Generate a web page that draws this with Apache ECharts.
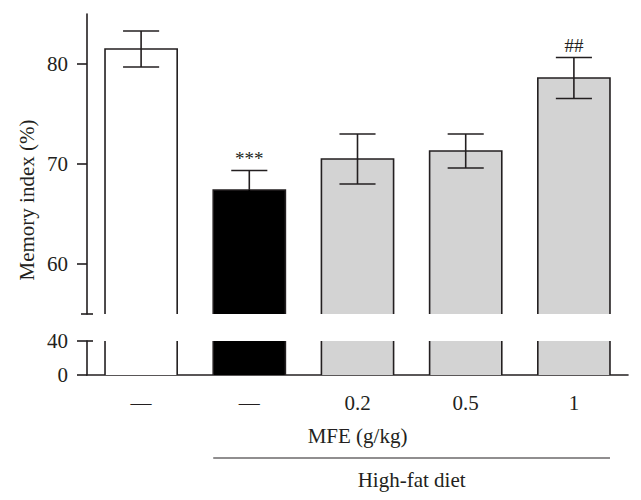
<!DOCTYPE html>
<html><head><meta charset="utf-8">
<script src="https://cdn.jsdelivr.net/npm/echarts@6/dist/echarts.min.js"></script>
<style>html,body{margin:0;padding:0;background:#fff}#c{width:641px;height:500px}</style>
</head><body><div id="c"></div>
<script>
// ---- data ----
const categories = ['\u2014', '\u2014', '0.2', '0.5', '1'];
const means = [81.5, 67.4, 70.5, 71.3, 78.6];
const errors = [1.8, 1.95, 2.5, 1.7, 2.05];
const marks = ['', '***', '', '', '##'];
const upperTicks = [60, 70, 80];
const lowerTicks = [0, 40];
const upperRange = [55, 85];
const lowerRange = [0, 40];
const groupLabel = 'High-fat diet';
const xName = 'MFE (g/kg)';
const yName = 'Memory index (%)';

// ---- styles ----
const INK = '#231f20';
const FAMILY = "'Liberation Serif', 'Times New Roman', serif";
const barFill = i => (i === 0 ? '#ffffff' : i === 1 ? '#000000' : '#d3d3d3');
const LW = 1.6;

const chart = echarts.init(document.getElementById('c'), null, { renderer: 'svg' });

const rows = means.map((m, i) => [i, m, errors[i]]);

function upperItem(params, api) {
  const i = api.value(0), v = api.value(1), e = api.value(2);
  const base = api.coord([i, upperRange[0]]);
  const top = api.coord([i, v]);
  const bw = api.size([1, 0])[0] * 0.667;
  const x0 = top[0] - bw / 2, x1 = top[0] + bw / 2;
  const eTop = api.coord([i, v + e])[1], eBot = api.coord([i, v - e])[1];
  const cap = bw / 4;
  const inner = barFill(i) === '#000000' ? '#000000' : INK;
  const children = [
    { type: 'rect', shape: { x: x0, y: top[1], width: bw, height: base[1] - top[1] }, style: { fill: barFill(i) } },
    { type: 'polyline', shape: { points: [[x0, base[1]], [x0, top[1]], [x1, top[1]], [x1, base[1]]] }, style: { stroke: INK, lineWidth: LW, fill: null } },
    { type: 'line', shape: { x1: top[0], y1: eTop, x2: top[0], y2: top[1] }, style: { stroke: INK, lineWidth: LW } },
    { type: 'line', shape: { x1: top[0], y1: top[1], x2: top[0], y2: eBot }, style: { stroke: inner, lineWidth: LW } },
    { type: 'line', shape: { x1: top[0] - cap, y1: eTop, x2: top[0] + cap, y2: eTop }, style: { stroke: INK, lineWidth: LW } },
    { type: 'line', shape: { x1: top[0] - cap, y1: eBot, x2: top[0] + cap, y2: eBot }, style: { stroke: inner, lineWidth: LW } }
  ];
  if (marks[i]) {
    children.push({ type: 'text', x: top[0], y: eTop - 3, style: { text: marks[i], fontSize: 19, fontFamily: FAMILY, fill: INK, align: 'center', verticalAlign: 'bottom' } });
  }
  if (params.dataIndex === 0) {
    const ax = params.coordSys.x;
    children.push({ type: 'line', shape: { x1: ax - 6, y1: base[1], x2: ax + 6, y2: base[1] }, style: { stroke: INK, lineWidth: LW } });
  }
  return { type: 'group', children };
}

function lowerItem(params, api) {
  const i = api.value(0);
  const base = api.coord([i, lowerRange[0]]);
  const top = api.coord([i, lowerRange[1]]);
  const bw = api.size([1, 0])[0] * 0.667;
  const x0 = base[0] - bw / 2, x1 = base[0] + bw / 2;
  const children = [
    { type: 'rect', shape: { x: x0, y: top[1], width: bw, height: base[1] - top[1] }, style: { fill: barFill(i) } },
    { type: 'line', shape: { x1: x0, y1: top[1], x2: x0, y2: base[1] }, style: { stroke: INK, lineWidth: LW } },
    { type: 'line', shape: { x1: x1, y1: top[1], x2: x1, y2: base[1] }, style: { stroke: INK, lineWidth: LW } }
  ];
  if (params.dataIndex === 0) {
    const ax = params.coordSys.x;
    children.push({ type: 'line', shape: { x1: ax, y1: top[1], x2: ax + 6, y2: top[1] }, style: { stroke: INK, lineWidth: LW } });
  }
  return { type: 'group', children };
}

const axisFont = { fontFamily: FAMILY, fontSize: 21, color: INK };

chart.setOption({
  animation: false,
  textStyle: { fontFamily: FAMILY },
  grid: [
    { left: 87, width: 541, top: 14, height: 300 },
    { left: 87, width: 541, top: 341, height: 34 }
  ],
  xAxis: [
    { type: 'category', gridIndex: 0, data: categories, show: false },
    {
      type: 'category', gridIndex: 1, data: categories,
      axisLine: { lineStyle: { color: INK, width: LW } },
      axisTick: { alignWithLabel: true, length: 9, lineStyle: { color: INK, width: LW } },
      axisLabel: Object.assign({ margin: 17 }, axisFont),
      name: xName, nameLocation: 'middle', nameGap: 50,
      nameTextStyle: { fontFamily: FAMILY, fontSize: 21, color: INK }
    }
  ],
  yAxis: [
    {
      type: 'value', gridIndex: 0, min: upperRange[0], max: upperRange[1],
      splitLine: { show: false },
      axisLine: { show: true, lineStyle: { color: INK, width: LW } },
      axisTick: { show: true, length: 10, customValues: upperTicks, lineStyle: { color: INK, width: LW } },
      axisLabel: Object.assign({ margin: 19, customValues: upperTicks }, axisFont)
    },
    {
      type: 'value', gridIndex: 1, min: lowerRange[0], max: lowerRange[1],
      splitLine: { show: false },
      axisLine: { show: true, lineStyle: { color: INK, width: LW } },
      axisTick: { show: true, length: 10, customValues: lowerTicks, lineStyle: { color: INK, width: LW } },
      axisLabel: Object.assign({ margin: 19, customValues: lowerTicks }, axisFont)
    }
  ],
  series: [
    { type: 'custom', xAxisIndex: 0, yAxisIndex: 0, data: rows, encode: { x: 0, y: 1 }, renderItem: upperItem, z: 3 },
    { type: 'custom', xAxisIndex: 1, yAxisIndex: 1, data: rows, encode: { x: 0, y: 1 }, renderItem: lowerItem, z: 1 }
  ]
});

// group bracket and labels positioned from the axis scale
const step = chart.convertToPixel({ xAxisIndex: 1 }, 1) - chart.convertToPixel({ xAxisIndex: 1 }, 0);
const hb = step * 0.667 / 2;
const gx0 = chart.convertToPixel({ xAxisIndex: 1 }, 1) - hb;
const gx1 = chart.convertToPixel({ xAxisIndex: 1 }, 4) + hb;
chart.setOption({
  graphic: [
    { type: 'line', shape: { x1: gx0, y1: 458, x2: gx1, y2: 458 }, style: { stroke: INK, lineWidth: 1.2 } },
    { type: 'text', x: (gx0 + gx1) / 2, y: 480, style: { text: groupLabel, fontSize: 21, fontFamily: FAMILY, fill: INK, align: 'center', verticalAlign: 'middle' } },
    { type: 'text', x: 27, y: 200, rotation: Math.PI / 2, style: { text: yName, fontSize: 21, fontFamily: FAMILY, fill: INK, align: 'center', verticalAlign: 'middle' } }
  ]
});
</script>
</body></html>
